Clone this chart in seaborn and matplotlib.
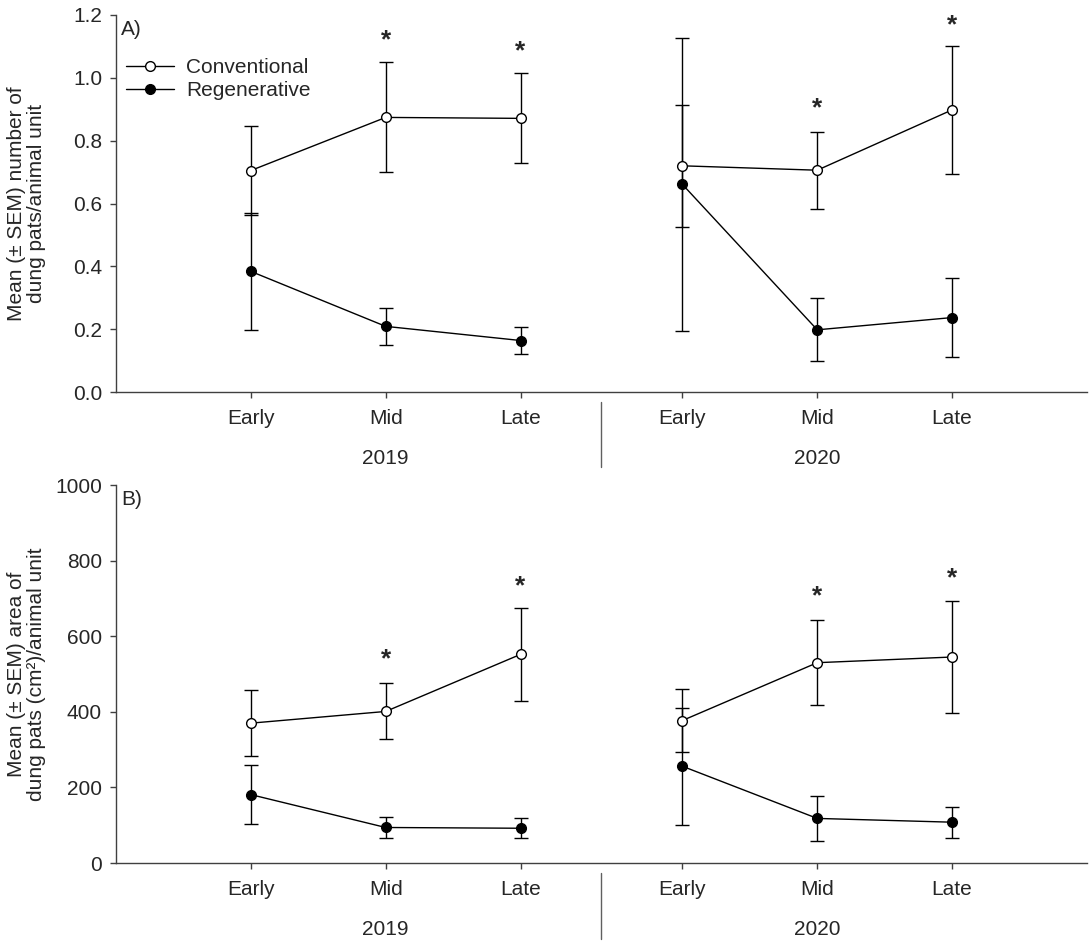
import pandas as pd
import numpy as np
import matplotlib
matplotlib.use("Agg")
import matplotlib.pyplot as plt
import matplotlib.transforms as mtransforms
from matplotlib.lines import Line2D
import seaborn as sns

#################
# Daten         #
#################

periods = ["Early", "Mid", "Late"]
years = ["2019", "2020"]

conv_num_mean = [0.705, 0.874, 0.871, 0.720, 0.706, 0.898]
conv_num_sem = [0.141, 0.175, 0.143, 0.195, 0.122, 0.204]
reg_num_mean = [0.384, 0.209, 0.164, 0.661, 0.198, 0.237]
reg_num_sem = [0.185, 0.060, 0.043, 0.467, 0.100, 0.125]

conv_area_mean = [370, 401, 552, 377, 530, 545]
conv_area_sem = [87, 74, 123, 84, 112, 149]
reg_area_mean = [181, 94, 92, 256, 118, 108]
reg_area_sem = [79, 29, 26, 155, 59, 41]

# significance stars (y position, None = no star)
star_num = [None, 1.12, 1.083, None, 0.903, 1.168]
star_area = [None, 539, 731, None, 705, 753]

# x layout of the two seasons
x_pos = {"2019": [1, 2, 3], "2020": [4.2, 5.2, 6.2]}
x_sep = 3.6

sns.set_style("ticks")
plt.rcParams["font.family"] = ["Liberation Sans", "DejaVu Sans"]
plt.rcParams["font.size"] = 15
FS = 15


def make_df(cm, cs, rm, rs):
    rows = []
    for g, m, s in [("Conventional", cm, cs), ("Regenerative", rm, rs)]:
        i = 0
        for y in years:
            for k, p in enumerate(periods):
                rows.append({"group": g, "year": y, "period": p,
                             "x": x_pos[y][k], "mean": m[i], "sem": s[i]})
                i += 1
    return pd.DataFrame(rows)


def draw_panel(ax, df, stars, ylim, yticks, fmt, ylabel, tag):
    fill = {"Conventional": "white", "Regenerative": "black"}
    for (g, y), sub in df.groupby(["group", "year"]):
        ax.errorbar(sub["x"], sub["mean"], yerr=sub["sem"], fmt="none",
                    ecolor="black", elinewidth=1, capsize=5, capthick=1, zorder=2)
        sns.lineplot(data=sub, x="x", y="mean", color="black", lw=1,
                     marker="o", markersize=7, markerfacecolor=fill[g],
                     markeredgecolor="black", markeredgewidth=1,
                     errorbar=None, ax=ax, zorder=3)
    xs = x_pos["2019"] + x_pos["2020"]
    for xx, st in zip(xs, stars):
        if st is not None:
            ax.text(xx, st, "*", ha="center", va="center", fontsize=19,
                    fontweight="bold")

    ax.set_xlim(0, 7.2)
    ax.set_ylim(*ylim)
    ax.set_xticks(xs)
    ax.set_xticklabels(periods * 2)
    ax.set_yticks(yticks)
    ax.set_yticklabels([fmt % v for v in yticks])
    ax.set_xlabel("")
    ax.set_ylabel(ylabel, fontsize=FS, linespacing=1.05)
    ax.yaxis.set_label_coords(-0.072, 0.5)
    ax.tick_params(axis="both", direction="out", length=4, width=1,
                   color="#404040", labelsize=FS)
    ax.tick_params(axis="x", pad=8)
    ax.tick_params(axis="y", pad=6)
    sns.despine(ax=ax)
    for sp in ["left", "bottom"]:
        ax.spines[sp].set_color("#404040")
        ax.spines[sp].set_linewidth(1)

    trans = mtransforms.blended_transform_factory(ax.transData, ax.transAxes)
    ax.text(2, -0.175, years[0], transform=trans, ha="center", va="center", fontsize=FS)
    ax.text(5.2, -0.175, years[1], transform=trans, ha="center", va="center", fontsize=FS)
    ax.plot([x_sep, x_sep], [-0.027, -0.2], transform=trans, color="#606060",
            lw=1, clip_on=False)
    ax.text(0.005, 0.988, tag, transform=ax.transAxes, ha="left", va="top", fontsize=FS)


fig = plt.figure(figsize=(10.91, 9.49), dpi=100)
ax1 = fig.add_axes([0.1063, 0.5869, 0.89, 0.3973])
ax2 = fig.add_axes([0.1063, 0.0906, 0.89, 0.3983])

df_num = make_df(conv_num_mean, conv_num_sem, reg_num_mean, reg_num_sem)
df_area = make_df(conv_area_mean, conv_area_sem, reg_area_mean, reg_area_sem)

draw_panel(ax1, df_num, star_num, (0, 1.2), np.arange(0, 1.21, 0.2), "%.1f",
           "Mean (\u00b1 SEM) number of\ndung pats/animal unit", "A)")
draw_panel(ax2, df_area, star_area, (0, 1000), np.arange(0, 1001, 200), "%d",
           "Mean (\u00b1 SEM) area of\ndung pats (cm\u00b2)/animal unit", "B)")

handles = [Line2D([], [], color="black", lw=1, marker="o", markersize=7,
                  markerfacecolor="white", markeredgecolor="black"),
           Line2D([], [], color="black", lw=1, marker="o", markersize=7,
                  markerfacecolor="black", markeredgecolor="black")]
ax1.legend(handles, ["Conventional", "Regenerative"], loc="upper left",
           bbox_to_anchor=(0.0, 0.913), frameon=False, borderpad=0,
           handlelength=2.3, handletextpad=0.55, labelspacing=0.2, fontsize=FS)

plt.savefig("out.png", dpi=100)
